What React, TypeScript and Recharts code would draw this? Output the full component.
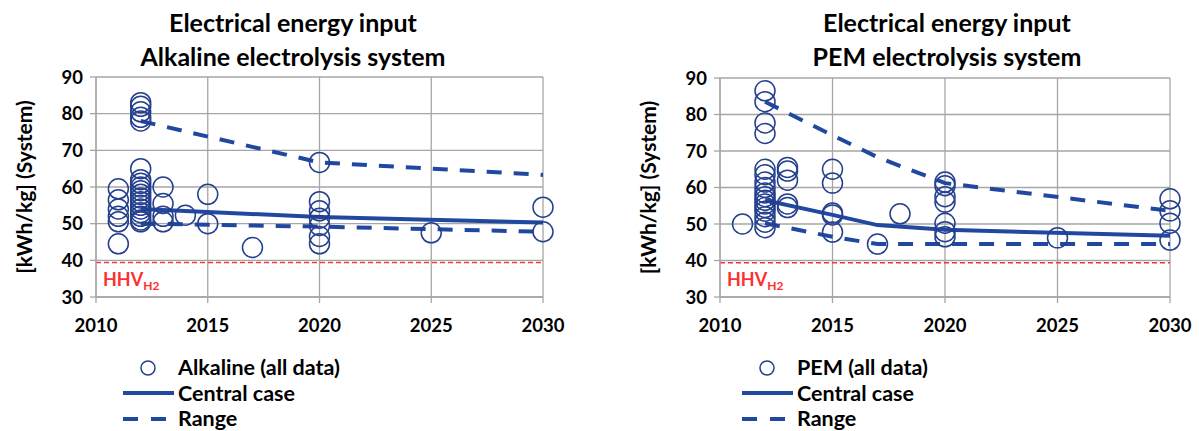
import React from 'react';
import { ComposedChart, Scatter, Line, XAxis, YAxis, CartesianGrid, ReferenceLine, Legend } from 'recharts';

// ---------- axes ----------
const yearTicks = [2010, 2015, 2020, 2025, 2030];
const valueTicks = [30, 40, 50, 60, 70, 80, 90];
const hhvH2 = 39.4;

// ---------- Alkaline (all data) ----------
const alkalineYears = [2011, 2012, 2013, 2014, 2015, 2017, 2020, 2025, 2030];
const alkalineValues = [
  [59.5, 56.5, 54, 52, 50.5, 44.5],
  [83, 82, 80.5, 79, 78, 65, 62, 61, 60, 59, 58, 57, 56, 55, 54, 53, 52, 51, 50.5],
  [60, 55.5, 52, 50.5],
  [52.3],
  [58, 50],
  [43.5],
  [66.7, 56, 53.5, 51.5, 49.5, 46.5, 44.5],
  [47.5],
  [54.5, 47.8],
];
const alkalineLineYears = [2012, 2015, 2020, 2030];
const alkalineCentral = [54, 53.2, 51.8, 50.3];
const alkalineRangeYears = [2012, 2020, 2030];
const alkalineUpper = [78, 66.7, 63.3];
const alkalineLower = [50, 49.2, 47.8];

// ---------- PEM (all data) ----------
const pemYears = [2011, 2012, 2013, 2015, 2017, 2018, 2020, 2025, 2030];
const pemValues = [
  [50],
  [86.5, 83.5, 77.7, 74.8, 65, 63.5, 61.5, 60, 58.5, 57.5, 56.5, 55.5, 54.5, 53.5, 52, 50.5, 49],
  [65.5, 64.5, 62, 55.5, 54.5],
  [65, 61.2, 53, 52.5, 47.8],
  [44.5],
  [52.8],
  [61.5, 60.5, 57.5, 56, 50.2, 47.9, 46.5],
  [46.2],
  [56.9, 53.6, 50.2, 45.6],
];
const pemLineYears = [2012, 2015, 2017, 2020, 2030];
const pemCentral = [56.5, 52.5, 49.7, 48.4, 46.8];
const pemUpper = [83.5, 74.3, 68.3, 61.2, 53.6];
const pemLower = [50.2, 46.5, 44.5, 44.5, 44.5];

// ---------- styling ----------
const FONT = 'Lato, "DejaVu Sans", sans-serif';
const LINE_BLUE = '#2148A0';
const CIRCLE_BLUE = '#233F8E';
const GRID = '#A6A6A6';
const RED = '#FF3030';

const toPoints = (years: number[], values: number[][]) =>
  years.flatMap((yr, i) => values[i].map((v) => ({ x: yr, y: v })));
const toLine = (years: number[], values: number[]) => years.map((yr, i) => ({ x: yr, y: values[i] }));

const CircleShape = (props: any) => {
  const { cx, cy } = props;
  if (cx == null || cy == null) return null;
  return <circle cx={cx} cy={cy} r={10} fill="none" stroke={CIRCLE_BLUE} strokeWidth={1.5} />;
};

const makeYLabel = (cxLocal: number) => (props: any) => {
  const vb = props.viewBox || {};
  const cy = vb.y + vb.height / 2;
  return (
    <text
      x={cxLocal}
      y={cy}
      transform={`rotate(-90, ${cxLocal}, ${cy})`}
      textAnchor="middle"
      dominantBaseline="central"
      fontFamily={FONT}
      fontWeight={700}
      fontSize={21}
      fill="#000"
    >
      [kWh/kg] (System)
    </text>
  );
};

const HHVLabel = (props: any) => {
  const vb = props.viewBox || {};
  return (
    <text x={vb.x + 7} y={vb.y + 23} fill={RED} fontFamily={FONT} fontWeight={700} fontSize={18}>
      HHV
      <tspan fontSize={12} dy={4}>H2</tspan>
    </text>
  );
};

const makeLegend = (label: string) => () => (
  <div style={{ fontFamily: FONT, fontWeight: 700, fontSize: 21.5, color: '#000', lineHeight: '25.5px' }}>
    <div style={{ display: 'flex', alignItems: 'center', height: 25.5 }}>
      <svg width={55} height={20} style={{ flex: 'none' }}>
        <circle cx={25} cy={10} r={7} fill="none" stroke={CIRCLE_BLUE} strokeWidth={1.5} />
      </svg>
      <span>{label}</span>
    </div>
    <div style={{ display: 'flex', alignItems: 'center', height: 25.5 }}>
      <svg width={55} height={20} style={{ flex: 'none' }}>
        <line x1={0} y1={10} x2={51} y2={10} stroke={LINE_BLUE} strokeWidth={4} />
      </svg>
      <span>Central case</span>
    </div>
    <div style={{ display: 'flex', alignItems: 'center', height: 25.5 }}>
      <svg width={55} height={20} style={{ flex: 'none' }}>
        <line x1={0} y1={10} x2={45} y2={10} stroke={LINE_BLUE} strokeWidth={4} strokeDasharray="15 13" />
      </svg>
      <span>Range</span>
    </div>
  </div>
);

type PanelProps = {
  width: number;
  yAxisWidth: number;
  yLabelX: number;
  marginTop: number;
  marginRight: number;
  points: { x: number; y: number }[];
  central: { x: number; y: number }[];
  upper: { x: number; y: number }[];
  lower: { x: number; y: number }[];
  legendLabel: string;
  legendLeft: number;
};

const Panel = (p: PanelProps) => (
  <ComposedChart
    width={p.width}
    height={431}
    margin={{ top: p.marginTop, right: p.marginRight, left: 0, bottom: 74 }}
  >
    <CartesianGrid stroke={GRID} strokeWidth={1.3} horizontal vertical />
    <XAxis
      type="number"
      dataKey="x"
      domain={[2010, 2030]}
      ticks={yearTicks}
      interval={0}
      height={60}
      axisLine={{ stroke: GRID, strokeWidth: 1.3 }}
      tickLine={{ stroke: GRID, strokeWidth: 1.3 }}
      tickSize={6}
      tickMargin={16}
      tick={{ fill: '#000', fontFamily: FONT, fontWeight: 700, fontSize: 18.5 }}
    />
    <YAxis
      type="number"
      dataKey="y"
      domain={[30, 90]}
      ticks={valueTicks}
      interval={0}
      width={p.yAxisWidth}
      axisLine={{ stroke: GRID, strokeWidth: 1.3 }}
      tickLine={{ stroke: GRID, strokeWidth: 1.3 }}
      tickSize={6}
      tickMargin={7}
      tick={{ fill: '#000', fontFamily: FONT, fontWeight: 700, fontSize: 18.5 }}
      label={{ content: makeYLabel(p.yLabelX) }}
    />
    <ReferenceLine
      y={hhvH2}
      stroke={RED}
      strokeWidth={1.5}
      strokeDasharray="5 3"
      label={{ content: HHVLabel }}
      ifOverflow="visible"
    />
    <Scatter data={p.points} dataKey="y" shape={CircleShape} isAnimationActive={false} />
    <Line data={p.upper} dataKey="y" type="linear" dot={false} activeDot={false} stroke={LINE_BLUE} strokeWidth={4} strokeDasharray="15 12" isAnimationActive={false} />
    <Line data={p.lower} dataKey="y" type="linear" dot={false} activeDot={false} stroke={LINE_BLUE} strokeWidth={4} strokeDasharray="15 12" isAnimationActive={false} />
    <Line data={p.central} dataKey="y" type="linear" dot={false} activeDot={false} stroke={LINE_BLUE} strokeWidth={4} isAnimationActive={false} />
    <Legend
      layout="vertical"
      align="center"
      verticalAlign="middle"
      content={makeLegend(p.legendLabel)}
      wrapperStyle={{ left: p.legendLeft, top: 355, width: 260, height: 78 }}
    />
  </ComposedChart>
);

const titleStyle = (center: number): React.CSSProperties => ({
  position: 'absolute',
  left: center - 200,
  top: 5,
  width: 400,
  textAlign: 'center',
  fontFamily: FONT,
  fontWeight: 700,
  fontSize: 25,
  lineHeight: '34px',
  color: '#000',
});

export default function App() {
  return (
    <div style={{ position: 'absolute', left: 0, top: 0, width: 1199, height: 431, background: '#fff', overflow: 'hidden' }}>
      <div style={{ position: 'absolute', left: 0, top: 0 }}>
        <Panel
          width={600}
          yAxisWidth={96}
          yLabelX={23}
          marginTop={77}
          marginRight={57}
          points={toPoints(alkalineYears, alkalineValues)}
          central={toLine(alkalineLineYears, alkalineCentral)}
          upper={toLine(alkalineRangeYears, alkalineUpper)}
          lower={toLine(alkalineRangeYears, alkalineLower)}
          legendLabel="Alkaline (all data)"
          legendLeft={123}
        />
      </div>
      <div style={{ position: 'absolute', left: 600, top: 0 }}>
        <Panel
          width={599}
          yAxisWidth={120}
          yLabelX={47}
          marginTop={78}
          marginRight={29}
          points={toPoints(pemYears, pemValues)}
          central={toLine(pemLineYears, pemCentral)}
          upper={toLine(pemLineYears, pemUpper)}
          lower={toLine(pemLineYears, pemLower)}
          legendLabel="PEM (all data)"
          legendLeft={142}
        />
      </div>
      <div style={titleStyle(293)}>
        Electrical energy input
        <br />
        Alkaline electrolysis system
      </div>
      <div style={titleStyle(947)}>
        Electrical energy input
        <br />
        PEM electrolysis system
      </div>
    </div>
  );
}
